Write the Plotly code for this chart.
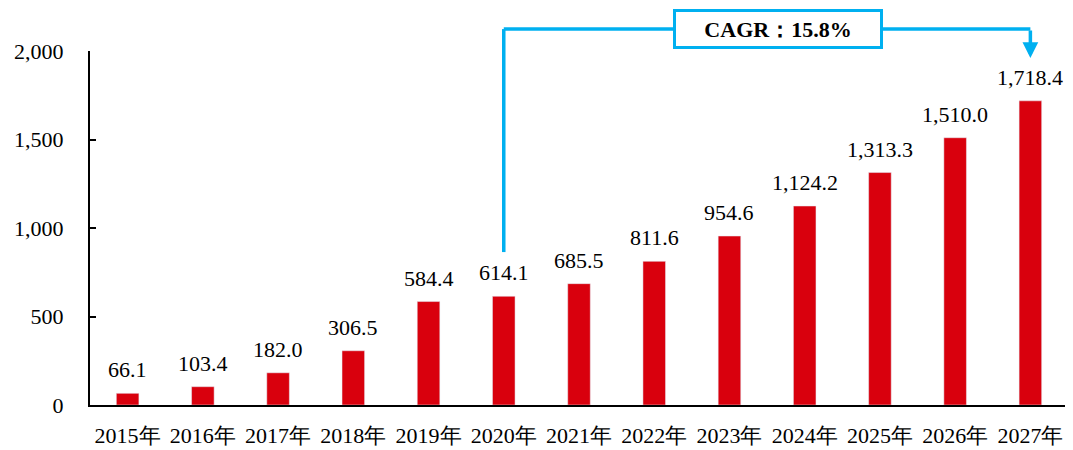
import plotly.graph_objects as go

years = ["2015年", "2016年", "2017年", "2018年", "2019年", "2020年", "2021年",
         "2022年", "2023年", "2024年", "2025年", "2026年", "2027年"]
values = [66.1, 103.4, 182.0, 306.5, 584.4, 614.1, 685.5, 811.6, 954.6,
          1124.2, 1313.3, 1510.0, 1718.4]
y_ticks = [0, 500, 1000, 1500, 2000]
cagr_text = "<b>CAGR：15.8%</b>"
cagr_start, cagr_end = 5, 12   # indices into years

RED = "#D9000D"
BLUE = "#00B0F0"
FONT = "Liberation Serif, Times New Roman, serif"
FS = 22

fig = go.Figure()
fig.add_trace(go.Bar(
    x=years, y=values, marker_color=RED, width=0.3, cliponaxis=False,
))

for yr, v in zip(years, values):
    fig.add_annotation(x=yr, y=v, xref="x", yref="y", text=f"{v:,.1f}",
                       showarrow=False, yanchor="bottom", yshift=9,
                       font=dict(family=FONT, size=FS, color="#000"))

fig.update_layout(
    width=1065, height=442,
    margin=dict(l=82, r=5, t=43, b=45),
    plot_bgcolor="white", paper_bgcolor="white",
    showlegend=False,
    font=dict(family=FONT, size=FS, color="#000"),
    xaxis=dict(type="category", showline=True, linecolor="#000", linewidth=2,
               ticks="", automargin=False, ticklabelstandoff=10,
               tickfont=dict(family=FONT, size=FS, color="#000")),
    yaxis=dict(range=[0, 2000], tickvals=y_ticks, tickformat=",",
               showline=True, linecolor="#000", linewidth=2, showgrid=False,
               ticks="inside", ticklen=6, tickwidth=2, tickcolor="#000",
               zeroline=False, ticklabelstandoff=20, automargin=False,
               tickfont=dict(family=FONT, size=FS, color="#000")),
)

top = 1.062
fig.add_shape(type="line", xref="x", yref="paper",
              x0=years[cagr_start], x1=years[cagr_start],
              y0=0.432, y1=top, line=dict(color=BLUE, width=3.5))
fig.add_shape(type="line", xref="x", yref="paper",
              x0=years[cagr_start], x1=years[cagr_end],
              y0=top, y1=top, line=dict(color=BLUE, width=3.5))
fig.add_annotation(x=years[cagr_end], y=0.980, xref="x", yref="paper",
                   ax=0, ay=-29, text="", showarrow=True,
                   arrowhead=2, arrowsize=0.9, arrowwidth=3.5, arrowcolor=BLUE)
fig.add_annotation(x=0.7035, y=1.061, xref="paper", yref="paper",
                   xanchor="center", yanchor="middle",
                   text=cagr_text, showarrow=False,
                   font=dict(family=FONT, size=22, color="#000"),
                   bgcolor="white", bordercolor=BLUE, borderwidth=3,
                   borderpad=4, width=196, height=26)

fig.write_html("out.html")
